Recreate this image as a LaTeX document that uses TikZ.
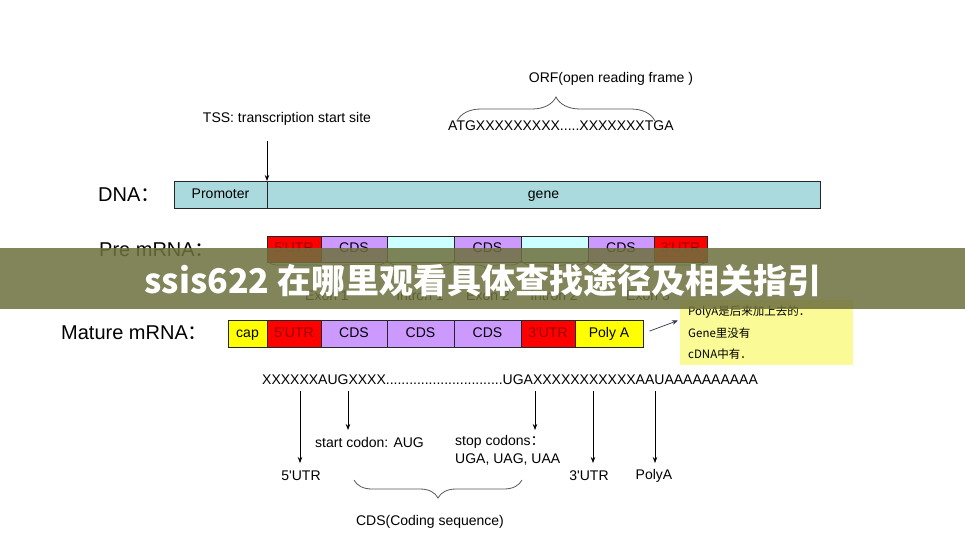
\documentclass[tikz,border=0pt]{standalone}
\usepackage{fontspec}
\setmainfont{Liberation Sans}
\newfontfamily\cjk{Noto Sans CJK SC}
\usetikzlibrary{arrows.meta,decorations.pathreplacing}
\definecolor{dnacol}{RGB}{170,218,222}
\definecolor{intcol}{RGB}{204,255,255}
\definecolor{cdscol}{RGB}{204,153,255}
\definecolor{utrcol}{RGB}{255,0,0}
\definecolor{utrtxt}{RGB}{150,0,0}
\definecolor{capcol}{RGB}{255,255,0}
\definecolor{notecol}{RGB}{250,250,150}
\definecolor{bancol}{RGB}{110,112,62}
\newcommand{\ap}{\textquotesingle}
\begin{document}
\begin{tikzpicture}[x=1pt,y=-1pt,
  lbl/.style={inner sep=0pt, font=\fontsize{14}{16}\selectfont},
  big/.style={inner sep=0pt, anchor=west, font=\fontsize{20}{22}\selectfont},
  seg/.style={draw=black!85, line width=0.8pt, inner sep=0pt, outer sep=0pt, anchor=west, text height=10pt, text depth=3pt, font=\fontsize{14}{16}\selectfont},
  utr/.style={seg, fill=utrcol, text=utrtxt},
  cds/.style={seg, fill=cdscol},
  intr/.style={seg, fill=intcol},
  yel/.style={seg, fill=capcol},
  arr/.style={-{Stealth[length=6pt,width=4.5pt]}, line width=0.7pt},
  brc/.style={decorate, decoration={brace, amplitude=#1}, line width=0.8pt, draw=black!65},
  notetxt/.style={inner sep=0pt, anchor=west, font=\cjk\fontsize{11.5}{13}\selectfont},
]
\useasboundingbox (0,0) rectangle (965,559);
\fill[white] (0,0) rectangle (965,559);

% --- top labels
\node[lbl] (tss) at (287,119) {TSS: transcription start site};
\coordinate (tssA) at (267,141);
\node[lbl] (orf) at (611,79) {ORF(open reading frame )};
\node[lbl, anchor=west] (orfseq) at (448,126) {ATGXXXXXXXXX.....XXXXXXXTGA};
\draw[brc=24] (457,121) -- (655,121);

% --- DNA
\node[big] (dnal) at (98,195) {DNA{\cjk ：}};
\node[seg, fill=dnacol, minimum width=93pt, minimum height=27pt] (prom) at (174,194.5) {Promoter};
\node[seg, fill=dnacol, minimum width=553pt, minimum height=27pt] (gene) at (prom.east) {gene};
\draw[arr] (tssA) -- (prom.north east);

% --- Pre mRNA
\node[big] (prel) at (99,250) {Pre mRNA{\cjk ：}};
\begin{scope}[every node/.append style={minimum height=26pt}]
\node[utr, minimum width=54pt] (p1) at (267,249) {5\ap UTR};
\node[cds, minimum width=66pt] (p2) at (p1.east) {CDS};
\node[intr, minimum width=67pt] (p3) at (p2.east) {};
\node[cds, minimum width=67pt] (p4) at (p3.east) {CDS};
\node[intr, minimum width=67pt] (p5) at (p4.east) {};
\node[cds, minimum width=66pt] (p6) at (p5.east) {CDS};
\node[utr, minimum width=53pt] (p7) at (p6.east) {3\ap UTR};
\end{scope}
\draw[brc=10] ([yshift=2pt]p2.south east) -- ([yshift=2pt]p1.south west);
\draw[brc=10] ([yshift=2pt]p3.south east) -- ([yshift=2pt]p3.south west);
\draw[brc=10] ([yshift=2pt]p4.south east) -- ([yshift=2pt]p4.south west);
\draw[brc=10] ([yshift=2pt]p5.south east) -- ([yshift=2pt]p5.south west);
\draw[brc=10] ([yshift=2pt]p7.south east) -- ([yshift=2pt]p6.south west);
\begin{scope}[every node/.append style={font=\fontsize{12}{14}\selectfont}]
\node[lbl] (ex1) at (327,296) {Exon 1};
\node[lbl] (in1) at (420,296) {Intron 1};
\node[lbl] (ex2) at (488,296) {Exon 2};
\node[lbl] (in2) at (554,296) {Intron 2};
\node[lbl] (ex3) at (648,296) {Exon 3};
\end{scope}

% --- Mature mRNA
\node[big] (matl) at (61,333) {Mature mRNA{\cjk ：}};
\begin{scope}[every node/.append style={minimum height=27pt}]
\node[yel, minimum width=39pt] (m0) at (228,333.5) {cap};
\node[utr, minimum width=54pt] (m1) at (m0.east) {5\ap UTR};
\node[cds, minimum width=66pt] (m2) at (m1.east) {CDS};
\node[cds, minimum width=67pt] (m3) at (m2.east) {CDS};
\node[cds, minimum width=67pt] (m4) at (m3.east) {CDS};
\node[utr, minimum width=54pt] (m5) at (m4.east) {3\ap UTR};
\node[yel, minimum width=68pt] (m6) at (m5.east) {Poly A};
\end{scope}
\node[fill=notecol, inner sep=0pt, minimum width=173pt, minimum height=65pt, anchor=north west] (note) at (680,300) {};
\node[notetxt] (n1) at (688,312) {PolyA是后来加上去的．};
\node[notetxt] (n2) at (688,333) {Gene里没有};
\node[notetxt] (n3) at (688,354) {cDNA中有．};
\coordinate (noteA) at (678,320.5);
\draw[arr, draw={rgb,255:red,50;green,55;blue,80}, shorten <=7pt] (m6.east) -- (noteA);

% --- sequence
\node[lbl, anchor=west] (seq) at (262,380) {XXXXXXAUGXXXX..............................UGAXXXXXXXXXXXAAUAAAAAAAAAA};
\coordinate (a1) at (300,391);
\coordinate (a2) at (348,391);
\coordinate (a3) at (535,391);
\coordinate (a4) at (593,391);
\coordinate (a5) at (655,391);
\coordinate (b1) at (300,463);
\coordinate (b2) at (348,430);
\coordinate (b3) at (535,430);
\coordinate (b4) at (593,463);
\coordinate (b5) at (655,463);
\draw[arr] (a1) -- (b1);
\draw[arr] (a2) -- (b2);
\draw[arr] (a3) -- (b3);
\draw[arr] (a4) -- (b4);
\draw[arr] (a5) -- (b5);
\node[lbl] (l5utr) at (301,476) {5\ap UTR};
\node[lbl, anchor=west] (lstart) at (315,442) {start codon: AUG};
\node[lbl, anchor=west] (lstop) at (455,442) {stop codons{\cjk ：}};
\node[lbl, anchor=west] (lstop2) at (455,460) {UGA, UAG, UAA};
\node[lbl] (l3utr) at (589,476) {3\ap UTR};
\node[lbl] (lpolya) at (654,476) {PolyA};
\draw[brc=18] (522,480) -- (354,480);
\node[lbl] (lcds) at (430,522) {CDS(Coding sequence)};

% --- overlay banner
\fill[bancol, fill opacity=0.86] (0,248) rectangle (965,309);
\node[inner sep=0pt, text=white, font=\cjk\bfseries\fontsize{34}{36}\selectfont] (banner) at (483,280) {ssis622 在哪里观看具体查找途径及相关指引};
\end{tikzpicture}
\end{document}
